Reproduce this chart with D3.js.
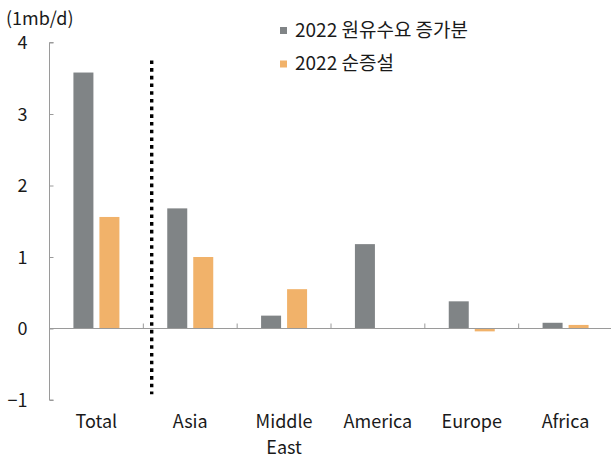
<!DOCTYPE html>
<html>
<head>
<meta charset="utf-8">
<script src="https://cdn.jsdelivr.net/npm/d3@7"></script>
<style>
  body { margin: 0; background: #fff; }
  text { font-family: "Noto Sans CJK KR", "Noto Sans", sans-serif; fill: #1a1a1a; }
</style>
</head>
<body>
<svg id="chart" width="611" height="459"></svg>
<script>
// Regional contributions, 2022 (mb/d)
const categories = ["Total", "Asia", "Middle East", "America", "Europe", "Africa"];
const categoryLines = [["Total"], ["Asia"], ["Middle", "East"], ["America"], ["Europe"], ["Africa"]];
const demandIncrease = [3.58, 1.68, 0.18, 1.18, 0.38, 0.08];
const netIncrease = [1.56, 1.00, 0.55, 0.00, -0.04, 0.05];
const seriesNames = ["2022 원유수요 증가분", "2022 순증설"];
const seriesColors = ["#808486", "#f1b26a"];
const yTicks = [-1, 0, 1, 2, 3, 4];
const unitLabel = "(1mb/d)";

const svg = d3.select("#chart");
const axisX = 49.5;

const x = d3.scaleBand().domain(categories).range([49.5, 612.5]).paddingInner(0).paddingOuter(0);
const y = d3.scaleLinear().domain([-1, 4]).range([400, 42.5]);

const barW = 20, gap = 6;
const offsetGray = (x.bandwidth() - (2 * barW + gap)) / 2;

// Bars
const series = [demandIncrease, netIncrease];
series.forEach((vals, si) => {
  svg.append("g").selectAll("rect")
    .data(vals.map((v, i) => ({ c: categories[i], v })))
    .join("rect")
    .attr("x", d => x(d.c) + offsetGray + si * (barW + gap))
    .attr("y", d => y(Math.max(0, d.v)))
    .attr("width", barW)
    .attr("height", d => Math.abs(y(d.v) - y(0)))
    .attr("fill", seriesColors[si]);
});

// Y axis
const yAxis = d3.axisLeft(y).tickValues(yTicks).tickSize(-4).tickPadding(0)
  .tickFormat(d => d < 0 ? "\u2212" + Math.abs(d) : d);
const yg = svg.append("g").attr("transform", `translate(${axisX},0)`).call(yAxis);
yg.select(".domain").attr("stroke", "#9a9a9a").attr("d", `M4,${y(4)}H0V${y(-1)}H4`);
yg.selectAll(".tick line").attr("stroke", "#9a9a9a");
yg.selectAll(".tick text").attr("x", -22).attr("dy", "0.36em")
  .style("font-size", "18px").attr("text-anchor", "end").attr("fill", "#1a1a1a");

// Zero baseline with category separator ticks
const xAxis = d3.axisBottom(x).tickSize(0).tickFormat("");
const xg = svg.append("g").attr("transform", `translate(0,${y(0)})`).call(xAxis);
xg.select(".domain").attr("stroke", "#9a9a9a").attr("d", `M${axisX},0H611`);
xg.selectAll(".tick").remove();
xg.selectAll(".sep").data(categories.slice(1)).join("line")
  .attr("x1", d => x(d)).attr("x2", d => x(d))
  .attr("y1", 0).attr("y2", -5).attr("stroke", "#9a9a9a");

// Category labels
categories.forEach((c, i) => {
  const t = svg.append("text").attr("text-anchor", "middle").style("font-size", "18px")
    .attr("x", x(c) + x.bandwidth() / 2).attr("y", 428);
  categoryLines[i].forEach((ln, j) => {
    t.append("tspan").attr("x", x(c) + x.bandwidth() / 2).attr("dy", j === 0 ? 0 : 26).text(ln);
  });
});

// Divider between Total and regions
svg.append("line")
  .attr("x1", 151.7).attr("x2", 151.7)
  .attr("y1", y(3.75)).attr("y2", y(-0.92))
  .attr("stroke", "#000").attr("stroke-width", 3.4).attr("stroke-dasharray", "3.6,4.1");

// Unit label
svg.append("text").attr("x", 6).attr("y", 25).style("font-size", "18px").text(unitLabel);

// Legend
seriesNames.forEach((name, i) => {
  const ly = 30 + i * 33.5;
  svg.append("rect").attr("x", 280).attr("y", ly - 3).attr("width", 7).attr("height", 7).attr("fill", seriesColors[i]);
  svg.append("text").attr("x", 295).attr("y", ly).attr("dy", "0.35em").style("font-size", "19px").text(name);
});
</script>
</body>
</html>
